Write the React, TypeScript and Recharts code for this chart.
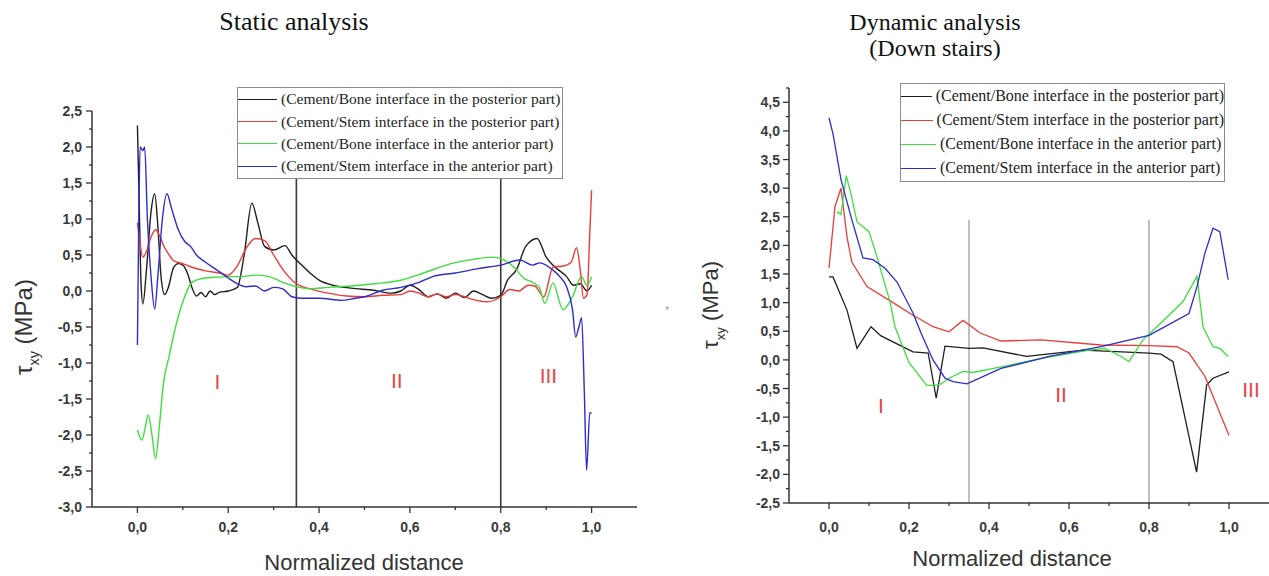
import React from 'react';
import { LineChart, Line, XAxis, YAxis, ReferenceLine, ReferenceDot, Legend } from 'recharts';

type Pt = [number, number];

const seriesNames = [
  '(Cement/Bone interface in the posterior part)',
  '(Cement/Stem interface in the posterior part)',
  '(Cement/Bone interface in the anterior part)',
  '(Cement/Stem interface in the anterior part)',
];
const seriesColors = ['#1e1e1e', '#ec3b3b', '#3ede3e', '#2d2dcf'];

// static analysis: [normalized distance, tau_xy in MPa]
const staticPostBone: Pt[] = [
  [0, 2.3], [0.004, 1.2], [0.008, 0.1], [0.012, -0.18], [0.02, 0.3], [0.03, 1.1], [0.038, 1.35],
  [0.045, 0.9], [0.052, 0.2], [0.06, -0.05], [0.068, 0.05], [0.08, 0.33], [0.09, 0.38], [0.1, 0.36],
  [0.11, 0.25], [0.12, 0.05], [0.13, -0.07], [0.14, -0.02], [0.15, -0.08], [0.16, 0.0], [0.17, -0.05],
  [0.18, -0.02], [0.2, 0.0], [0.22, 0.05], [0.235, 0.5], [0.252, 1.22], [0.265, 0.95], [0.28, 0.62],
  [0.3, 0.57], [0.325, 0.63], [0.34, 0.5], [0.36, 0.37], [0.38, 0.25], [0.4, 0.15], [0.43, 0.08],
  [0.47, 0.04], [0.52, 0.01], [0.56, -0.03], [0.58, 0.0], [0.6, 0.08], [0.62, 0.02], [0.64, -0.08],
  [0.66, -0.04], [0.68, -0.1], [0.7, -0.03], [0.72, -0.09], [0.74, 0.0], [0.76, -0.05], [0.78, -0.1],
  [0.8, -0.06], [0.815, 0.15], [0.835, 0.3], [0.855, 0.62], [0.88, 0.73], [0.9, 0.47], [0.92, 0.33],
  [0.945, 0.2], [0.96, 0.08], [0.975, 0.1], [0.99, 0.0], [1.0, 0.08],
];
const staticPostStem: Pt[] = [
  [0, 0.95], [0.005, 0.7], [0.012, 0.47], [0.02, 0.55], [0.03, 0.75], [0.04, 0.85], [0.05, 0.75],
  [0.06, 0.6], [0.07, 0.5], [0.08, 0.42], [0.1, 0.38], [0.12, 0.33], [0.15, 0.28], [0.18, 0.25],
  [0.2, 0.22], [0.22, 0.35], [0.24, 0.6], [0.26, 0.73], [0.28, 0.7], [0.3, 0.5], [0.32, 0.3],
  [0.35, 0.1], [0.38, 0.03], [0.42, -0.03], [0.46, -0.07], [0.5, -0.08], [0.54, -0.06], [0.58, -0.05],
  [0.6, 0.0], [0.62, -0.03], [0.64, -0.08], [0.66, -0.04], [0.68, -0.08], [0.7, -0.05], [0.72, -0.08],
  [0.74, -0.12], [0.77, -0.15], [0.8, -0.08], [0.82, 0.02], [0.84, 0.0], [0.86, 0.08], [0.875, 0.07],
  [0.895, -0.08], [0.915, 0.33], [0.94, 0.35], [0.955, 0.4], [0.967, 0.6], [0.975, 0.3], [0.982, -0.1],
  [0.99, -0.05], [0.996, 0.8], [1.0, 1.4],
];
const staticAntBone: Pt[] = [
  [0, -1.93], [0.01, -2.07], [0.017, -1.9], [0.024, -1.72], [0.032, -2.0], [0.04, -2.33], [0.048, -1.9],
  [0.057, -1.3], [0.07, -0.9], [0.084, -0.5], [0.1, -0.15], [0.12, 0.12], [0.14, 0.17], [0.17, 0.19],
  [0.2, 0.2], [0.23, 0.2], [0.26, 0.22], [0.29, 0.2], [0.32, 0.12], [0.35, 0.06], [0.38, 0.03],
  [0.42, 0.05], [0.47, 0.07], [0.52, 0.1], [0.58, 0.15], [0.63, 0.25], [0.69, 0.38], [0.74, 0.44],
  [0.78, 0.47], [0.8, 0.45], [0.82, 0.38], [0.835, 0.29], [0.85, 0.18], [0.87, 0.12], [0.885, 0.05],
  [0.897, -0.17], [0.915, 0.11], [0.937, -0.26], [0.958, -0.08], [0.978, 0.2], [0.99, 0.07], [1.0, 0.2],
];
const staticAntStem: Pt[] = [
  [0, -0.75], [0.003, 1.0], [0.006, 2.0], [0.012, 1.95], [0.016, 2.0], [0.022, 1.0], [0.03, 0.2],
  [0.038, -0.25], [0.045, 0.2], [0.055, 1.0], [0.065, 1.35], [0.075, 1.15], [0.09, 0.85], [0.105, 0.68],
  [0.117, 0.62], [0.13, 0.5], [0.15, 0.4], [0.18, 0.27], [0.2, 0.18], [0.22, 0.1], [0.24, 0.06],
  [0.26, 0.07], [0.28, 0.0], [0.3, 0.05], [0.32, 0.03], [0.34, -0.08], [0.36, -0.1], [0.4, -0.1],
  [0.45, -0.13], [0.48, -0.1], [0.5, -0.08], [0.54, 0.01], [0.58, 0.05], [0.62, 0.12], [0.65, 0.2],
  [0.7, 0.25], [0.75, 0.31], [0.8, 0.36], [0.842, 0.43], [0.87, 0.36], [0.886, 0.39], [0.915, 0.29],
  [0.93, 0.2], [0.945, 0.06], [0.958, -0.26], [0.965, -0.64], [0.972, -0.5], [0.978, -0.37],
  [0.984, -1.4], [0.989, -2.49], [0.996, -1.69], [1.0, -1.7],
];

// dynamic analysis (down stairs)
const dynPostBone: Pt[] = [
  [0, 1.45], [0.01, 1.45], [0.045, 0.87], [0.07, 0.2], [0.105, 0.58], [0.13, 0.42], [0.21, 0.14],
  [0.248, 0.12], [0.268, -0.67], [0.29, 0.24], [0.35, 0.2], [0.385, 0.21], [0.494, 0.06], [0.636, 0.17],
  [0.8, 0.12], [0.83, 0.1], [0.86, -0.03], [0.919, -1.96], [0.944, -0.44], [0.96, -0.32], [1.0, -0.21],
];
const dynPostStem: Pt[] = [
  [0, 1.6], [0.015, 2.68], [0.03, 3.0], [0.045, 2.15], [0.057, 1.71], [0.095, 1.28], [0.16, 1.0],
  [0.21, 0.78], [0.26, 0.58], [0.3, 0.49], [0.335, 0.69], [0.378, 0.47], [0.43, 0.33], [0.53, 0.35],
  [0.68, 0.26], [0.8, 0.25], [0.87, 0.23], [0.9, 0.12], [0.94, -0.29], [1.0, -1.32],
];
const dynAntBone: Pt[] = [
  [0.02, 2.59], [0.03, 2.54], [0.043, 3.22], [0.055, 2.9], [0.07, 2.41], [0.1, 2.24], [0.12, 1.8],
  [0.153, 1.0], [0.165, 0.58], [0.2, -0.05], [0.244, -0.44], [0.265, -0.45], [0.28, -0.42], [0.3, -0.32],
  [0.335, -0.2], [0.36, -0.22], [0.43, -0.12], [0.55, 0.05], [0.65, 0.17], [0.69, 0.2], [0.73, 0.06],
  [0.75, -0.03], [0.785, 0.35], [0.82, 0.58], [0.885, 1.02], [0.92, 1.46], [0.935, 0.58], [0.96, 0.23],
  [0.977, 0.2], [0.998, 0.06],
];
const dynAntStem: Pt[] = [
  [0, 4.23], [0.01, 3.95], [0.03, 3.15], [0.057, 2.45], [0.085, 1.78], [0.11, 1.75], [0.14, 1.6],
  [0.17, 1.36], [0.21, 0.82], [0.23, 0.47], [0.26, 0.0], [0.29, -0.32], [0.31, -0.38], [0.345, -0.42],
  [0.43, -0.15], [0.55, 0.06], [0.68, 0.23], [0.8, 0.43], [0.84, 0.58], [0.9, 0.81], [0.92, 1.28],
  [0.94, 1.87], [0.96, 2.3], [0.977, 2.24], [0.998, 1.4],
];

const xTicks = [0, 0.1, 0.2, 0.3, 0.4, 0.5, 0.6, 0.7, 0.8, 0.9, 1.0];
const staticYMajor = [-3, -2.5, -2, -1.5, -1, -0.5, 0, 0.5, 1, 1.5, 2, 2.5];
const dynYMajor = [-2.5, -2, -1.5, -1, -0.5, 0, 0.5, 1, 1.5, 2, 2.5, 3, 3.5, 4, 4.5];
const zoneBounds = [0.35, 0.8];
const zoneNames = ['I', 'II', 'III'];
const staticZonePos: Pt[] = [[0.176, -1.26], [0.571, -1.24], [0.905, -1.17]];
const dynZonePos: Pt[] = [[0.13, -0.79], [0.58, -0.61], [1.055, -0.52]];

const staticSeries = [staticPostBone, staticPostStem, staticAntBone, staticAntStem];
const dynSeries = [dynPostBone, dynPostStem, dynAntBone, dynAntStem];

const toRows = (pts: Pt[]) => pts.map(([x, y]) => ({ x, y }));
const withMinor = (majors: number[], top?: number) => {
  const minors = majors.slice(1).map((v) => v - 0.25);
  const all = [...majors, ...minors];
  if (top !== undefined) all.push(top);
  return all.sort((a, b) => a - b);
};
const fmt = (v: number) => v.toFixed(1).replace('.', ',');
const onGrid = (v: number, step: number) => Math.abs(v / step - Math.round(v / step)) < 1e-6;

const SANS = 'Liberation Sans, Arial, sans-serif';
const SERIF = 'Liberation Serif, Times New Roman, serif';

function YTick(props: any) {
  const { x, y, payload, gap } = props;
  const major = onGrid(payload.value, 0.5);
  return (
    <g>
      <line x1={x} x2={x - (major ? 6 : 3)} y1={y} y2={y} stroke="#333" strokeWidth={1.3} />
      {major && (
        <text x={x - gap} y={y + 5} textAnchor="end" fontFamily={SANS} fontWeight="bold" fontSize={14} fill="#3a3a3a">
          {fmt(payload.value)}
        </text>
      )}
    </g>
  );
}

function XTick(props: any) {
  const { x, y, payload, drop } = props;
  const major = onGrid(payload.value, 0.2);
  return (
    <g>
      <line x1={x} x2={x} y1={y} y2={y + (major ? 6 : 3)} stroke="#333" strokeWidth={1.3} />
      {major && (
        <text x={x} y={y + drop} textAnchor="middle" fontFamily={SANS} fontWeight="bold" fontSize={14} fill="#3a3a3a">
          {fmt(payload.value)}
        </text>
      )}
    </g>
  );
}

function YTitle({ posX, posY, size }: any) {
  return (
    <text transform={`translate(${posX},${posY}) rotate(-90)`} textAnchor="middle" fontFamily={SANS} fontSize={size} fill="#333">
      τ<tspan fontSize={size * 0.6} dy={size * 0.3}>xy</tspan>
      <tspan dy={-size * 0.3}> (MPa)</tspan>
    </text>
  );
}

function XTitle({ posX, posY }: any) {
  return (
    <text x={posX} y={posY} textAnchor="middle" fontFamily={SANS} fontSize={22} fill="#333">
      Normalized distance
    </text>
  );
}

function LegendBox({ payload, rowH, lineW, fontSize }: any) {
  const items = [...(payload || [])].sort((a: any, b: any) => seriesNames.indexOf(a.value) - seriesNames.indexOf(b.value));
  return (
    <div style={{ border: '1px solid #8c8c8c', background: '#fff', paddingBottom: 1 }}>
      {items.map((e: any) => (
        <div key={e.value} style={{ display: 'flex', alignItems: 'center', height: rowH, whiteSpace: 'nowrap' }}>
          <span style={{ display: 'inline-block', width: lineW, height: 0, borderTop: `1.5px solid ${e.color}`, marginRight: 4 }} />
          <span style={{ fontFamily: SERIF, fontSize, color: '#222', lineHeight: 1 }}>{e.value}</span>
        </div>
      ))}
    </div>
  );
}

const zoneText = (label: string) => (p: any) => (
  <text x={p.cx} y={p.cy} textAnchor="middle" dominantBaseline="central" fontFamily={SANS} fontSize={21} fill="#e64444">
    {label}
  </text>
);

export default function App() {
  return (
    <div style={{ position: 'absolute', left: 0, top: 0, width: 1269, height: 576, background: '#fff', overflow: 'hidden' }}>
      <div style={{ position: 'absolute', left: 0, top: 0 }}>
        <LineChart width={640} height={576} margin={{ top: 111, right: 3, bottom: 39, left: 42 }}>
          <XAxis
            type="number"
            dataKey="x"
            domain={[-0.1, 1.1]}
            ticks={xTicks}
            interval={0}
            tickSize={0}
            tickMargin={0}
            tickLine={false}
            tick={<XTick drop={25} />}
            axisLine={{ stroke: '#333', strokeWidth: 1.5 }}
            height={30}
            label={<XTitle posX={364} posY={570} />}
          />
          <YAxis
            type="number"
            domain={[-3, 2.5]}
            ticks={withMinor(staticYMajor)}
            interval={0}
            tickSize={0}
            tickMargin={0}
            tickLine={false}
            tick={<YTick gap={10} />}
            axisLine={{ stroke: '#333', strokeWidth: 1.5 }}
            width={50}
            label={<YTitle posX={32} posY={327} size={24} />}
          />
          {zoneBounds.map((b) => (
            <ReferenceLine key={b} x={b} stroke="#3a3a3a" strokeWidth={1.6} />
          ))}
          {staticSeries.map((s, i) => (
            <Line
              key={seriesNames[i]}
              data={toRows(s)}
              dataKey="y"
              name={seriesNames[i]}
              stroke={seriesColors[i]}
              strokeWidth={1.4}
              type="monotone"
              dot={false}
              isAnimationActive={false}
            />
          ))}
          {zoneNames.map((z, i) => (
            <ReferenceDot key={z} x={staticZonePos[i][0]} y={staticZonePos[i][1]} r={0} shape={zoneText(z)} />
          ))}
          <Legend
            layout="vertical"
            align="center"
            verticalAlign="middle"
            content={<LegendBox rowH={22.3} lineW={39} fontSize={15.5} />}
            wrapperStyle={{ left: 237, top: 87, width: 326 }}
          />
        </LineChart>
      </div>

      <div style={{ position: 'absolute', left: 640, top: 0 }}>
        <LineChart width={629} height={576} margin={{ top: 88, right: 0, bottom: 43, left: 99 }}>
          <XAxis
            type="number"
            dataKey="x"
            domain={[-0.1, 1.1]}
            ticks={xTicks}
            interval={0}
            tickSize={0}
            tickMargin={0}
            tickLine={false}
            tick={<XTick drop={29} />}
            axisLine={{ stroke: '#333', strokeWidth: 1.5 }}
            height={30}
            label={<XTitle posX={372} posY={566} />}
          />
          <YAxis
            type="number"
            domain={[-2.5, 4.75]}
            ticks={withMinor(dynYMajor, 4.75)}
            interval={0}
            tickSize={0}
            tickMargin={0}
            tickLine={false}
            tick={<YTick gap={9} />}
            axisLine={{ stroke: '#333', strokeWidth: 1.5 }}
            width={50}
            label={<YTitle posX={78} posY={305} size={22} />}
          />
          {zoneBounds.map((b) => (
            <ReferenceLine
              key={b}
              segment={[{ x: b, y: 2.45 }, { x: b, y: -2.5 }]}
              stroke="#8a8a8a"
              strokeWidth={1.1}
            />
          ))}
          {dynSeries.map((s, i) => (
            <Line
              key={seriesNames[i]}
              data={toRows(s)}
              dataKey="y"
              name={seriesNames[i]}
              stroke={seriesColors[i]}
              strokeWidth={1.3}
              type="linear"
              dot={false}
              isAnimationActive={false}
            />
          ))}
          {zoneNames.map((z, i) => (
            <ReferenceDot key={z} x={dynZonePos[i][0]} y={dynZonePos[i][1]} r={0} shape={zoneText(z)} />
          ))}
          <Legend
            layout="vertical"
            align="center"
            verticalAlign="middle"
            content={<LegendBox rowH={24} lineW={35} fontSize={16} />}
            wrapperStyle={{ left: 260, top: 83, width: 325 }}
          />
        </LineChart>
      </div>

      <div style={{ position: 'absolute', left: 144, top: 9, width: 300, textAlign: 'center', fontFamily: SERIF, fontSize: 26, lineHeight: '26px', color: '#111' }}>
        Static analysis
      </div>
      <div style={{ position: 'absolute', left: 785, top: 9, width: 300, textAlign: 'center', fontFamily: SERIF, fontSize: 24, lineHeight: '26px', color: '#111' }}>
        Dynamic analysis
        <br />
        (Down stairs)
      </div>
      <div style={{ position: 'absolute', left: 665, top: 304, fontFamily: SANS, fontSize: 11, color: '#999' }}>*</div>
    </div>
  );
}
